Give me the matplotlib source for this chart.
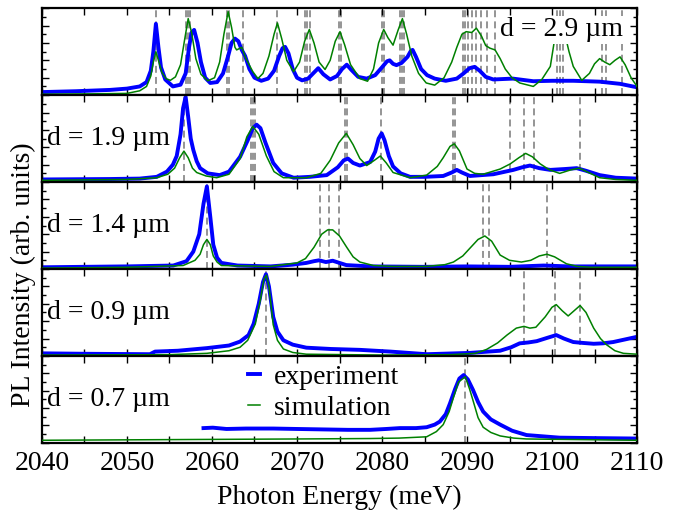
import matplotlib
matplotlib.use('Agg')
import matplotlib.pyplot as plt
from matplotlib.ticker import MultipleLocator

plt.rcParams['font.family'] = ['Liberation Serif', 'DejaVu Serif']
plt.rcParams['lines.scale_dashes'] = False

# d = 2.9 um
e29_exp = [2040.0, 2044.0, 2048.0, 2050.0, 2051.5, 2052.3, 2052.8, 2053.1, 2053.4, 2053.7, 2054.0, 2054.5,
           2055.4, 2056.3, 2056.9, 2057.3, 2057.6, 2057.9, 2058.3, 2058.7, 2059.2, 2059.8, 2060.6, 2061.3,
           2061.9, 2062.3, 2062.7, 2063.1, 2063.5, 2063.9, 2064.4, 2065.0, 2065.8, 2066.6, 2067.3, 2067.9,
           2068.3, 2068.6, 2069.0, 2069.5, 2070.0, 2070.6, 2071.3, 2071.9, 2072.5, 2073.1, 2073.9, 2074.7,
           2075.3, 2075.85, 2076.4, 2077.2, 2078.2, 2079.2, 2080.0, 2080.6, 2080.9, 2081.3, 2081.7, 2082.3,
           2083.0, 2083.4, 2083.6, 2084.0, 2084.6, 2085.3, 2086.2, 2087.5, 2088.8, 2089.6, 2090.3, 2090.9,
           2091.5, 2092.2, 2093.1, 2094.2, 2095.4, 2096.6, 2097.8, 2100.0, 2102.5, 2105.6, 2108.0, 2110.0]
i29_exp = [0.035, 0.045, 0.06, 0.075, 0.10, 0.15, 0.28, 0.50, 0.82, 0.55, 0.32, 0.18,
           0.10, 0.12, 0.25, 0.55, 0.72, 0.75, 0.60, 0.38, 0.20, 0.14, 0.15, 0.25,
           0.45, 0.60, 0.65, 0.62, 0.52, 0.45, 0.30, 0.20, 0.165, 0.19, 0.28, 0.45,
           0.54, 0.555, 0.48, 0.30, 0.20, 0.17, 0.19, 0.25, 0.31, 0.24, 0.18, 0.22,
           0.30, 0.35, 0.29, 0.21, 0.19, 0.23, 0.32, 0.39, 0.40, 0.36, 0.345, 0.37,
           0.44, 0.51, 0.52, 0.44, 0.30, 0.23, 0.19, 0.165, 0.19, 0.25, 0.31, 0.325,
           0.28, 0.21, 0.18, 0.185, 0.19, 0.175, 0.16, 0.165, 0.165, 0.155, 0.13, 0.09]
e29_sim = [2040.0, 2046.0, 2050.0, 2051.5, 2052.3, 2052.8, 2053.1, 2053.4, 2053.7, 2054.1, 2054.6, 2055.1,
           2055.7, 2056.3, 2056.8, 2057.2, 2057.6, 2058.1, 2058.7, 2059.5, 2060.3, 2060.9, 2061.4, 2061.9,
           2062.3, 2062.7, 2062.9, 2063.5, 2064.0, 2064.8, 2065.4, 2066.0, 2066.7, 2067.3, 2067.7, 2068.2,
           2068.8, 2069.6, 2070.3, 2070.9, 2071.45, 2072.0, 2072.6, 2073.3, 2073.9, 2074.5, 2075.06, 2075.6,
           2076.3, 2077.4, 2078.3, 2079.0, 2079.6, 2080.2, 2080.7, 2081.3, 2081.9, 2082.4, 2082.9, 2083.5,
           2084.3, 2085.2, 2086.2, 2087.3, 2088.2, 2088.8, 2089.4, 2089.9, 2090.55, 2091.1, 2091.7, 2092.2,
           2092.7, 2093.3, 2093.9, 2094.5, 2095.3, 2096.2, 2097.8, 2098.8, 2099.8, 2100.4, 2100.9, 2101.4,
           2102.0, 2102.5, 2103.5, 2104.4, 2105.0, 2105.6, 2106.2, 2106.8, 2107.4, 2108.0, 2108.6, 2109.3,
           2110.0]
i29_sim = [0.01, 0.015, 0.02, 0.05, 0.10, 0.22, 0.38, 0.50, 0.40, 0.26, 0.19, 0.17,
           0.21, 0.35, 0.65, 0.88, 0.72, 0.42, 0.24, 0.165, 0.20, 0.38, 0.70, 0.96,
           0.78, 0.55, 0.52, 0.55, 0.42, 0.27, 0.19, 0.25, 0.45, 0.70, 0.83, 0.65,
           0.40, 0.27, 0.38, 0.62, 0.755, 0.60, 0.38, 0.295, 0.40, 0.62, 0.73, 0.58,
           0.35, 0.19, 0.16, 0.30, 0.60, 0.755, 0.66, 0.575, 0.75, 0.88, 0.70, 0.45,
           0.25, 0.14, 0.115, 0.20, 0.38, 0.55, 0.70, 0.73, 0.72, 0.77, 0.68, 0.57,
           0.54, 0.52, 0.42, 0.30, 0.20, 0.14, 0.10, 0.18, 0.33, 0.70, 0.90, 0.75,
           0.50, 0.33, 0.17, 0.25, 0.36, 0.42, 0.38, 0.35, 0.40, 0.44, 0.35, 0.20,
           0.10]
m29 = [2053.4, 2057.0, 2057.2, 2057.4, 2061.8, 2062.0, 2063.6, 2067.7, 2070.9, 2071.2, 2071.5,
       2074.95, 2075.15, 2079.95, 2080.2, 2082.1, 2082.35, 2082.6, 2089.5, 2089.8, 2090.1, 2090.6,
       2091.1, 2091.6, 2092.4, 2093.3, 2100.55, 2100.9, 2101.3, 2105.85, 2106.4, 2108.2]

# d = 1.9 um
e19_exp = [2040.0, 2048.0, 2051.5, 2053.5, 2054.7, 2055.4, 2055.85, 2056.3, 2056.6, 2056.9, 2057.2, 2057.5,
           2057.8, 2058.2, 2058.6, 2059.5, 2060.9, 2062.0, 2063.3, 2064.2, 2064.8, 2065.25, 2065.7, 2066.3,
           2067.2, 2068.2, 2069.6, 2071.5, 2073.5, 2074.8, 2075.5, 2076.0, 2076.6, 2077.4, 2078.6, 2079.2,
           2079.6, 2079.96, 2080.3, 2080.8, 2081.3, 2082.2, 2083.3, 2085.0, 2087.2, 2088.2, 2088.8, 2089.4,
           2090.35, 2093.1, 2095.45, 2096.5, 2097.4, 2098.5, 2099.8, 2101.5, 2102.9, 2104.0, 2105.6, 2107.5,
           2110.0]
i19_exp = [0.03, 0.035, 0.04, 0.06, 0.12, 0.20, 0.30, 0.55, 0.85, 0.98, 0.75, 0.50,
           0.37, 0.24, 0.16, 0.10, 0.08, 0.12, 0.29, 0.48, 0.62, 0.66, 0.62, 0.45,
           0.22, 0.10, 0.05, 0.06, 0.08, 0.17, 0.25, 0.27, 0.22, 0.19, 0.23, 0.35,
           0.50, 0.56, 0.48, 0.30, 0.18, 0.10, 0.06, 0.06, 0.07, 0.11, 0.14, 0.11,
           0.07, 0.09, 0.14, 0.17, 0.19, 0.16, 0.14, 0.15, 0.16, 0.13, 0.08, 0.05,
           0.04]
e19_sim = [2040.0, 2050.0, 2053.5, 2054.8, 2055.6, 2056.2, 2056.7, 2057.2, 2057.7, 2058.2, 2059.3, 2060.55,
           2062.0, 2063.3, 2064.1, 2064.8, 2065.5, 2066.4, 2067.3, 2068.4, 2071.1, 2072.8, 2073.9, 2074.9,
           2075.8, 2076.6, 2077.4, 2078.2, 2079.1, 2079.8, 2080.5, 2081.3, 2083.3, 2085.25, 2086.5, 2087.2,
           2088.0, 2088.5, 2089.1, 2090.0, 2090.9, 2091.9, 2093.9, 2095.1, 2096.1, 2096.9, 2097.7, 2098.6,
           2099.7, 2100.9, 2102.2, 2103.2, 2104.3, 2105.6, 2107.5, 2110.0]
i19_sim = [0.02, 0.03, 0.05, 0.09, 0.16, 0.28, 0.356, 0.28, 0.16, 0.11, 0.07, 0.05,
           0.09, 0.27, 0.52, 0.64, 0.55, 0.30, 0.12, 0.05, 0.05, 0.10, 0.25, 0.45,
           0.56, 0.43, 0.27, 0.19, 0.25, 0.30, 0.22, 0.11, 0.05, 0.08, 0.18, 0.28,
           0.41, 0.44, 0.36, 0.15, 0.10, 0.09, 0.15, 0.21, 0.28, 0.33, 0.29, 0.21,
           0.14, 0.10, 0.14, 0.16, 0.11, 0.05, 0.03, 0.02]
m19 = [2056.7, 2064.6, 2064.85, 2065.1, 2075.7, 2075.9, 2079.9, 2088.35, 2088.6, 2095.1, 2096.7,
       2097.9, 2103.3]

# d = 1.4 um
e14_exp = [2040.0, 2050.0, 2055.45, 2057.0, 2057.8, 2058.5, 2059.0, 2059.4, 2059.8, 2060.15, 2060.6, 2061.1,
           2063.0, 2066.9, 2069.5, 2071.1, 2072.0, 2072.6, 2073.4, 2074.2, 2075.0, 2075.8, 2078.6, 2085.0,
           2090.0, 2095.0, 2099.0, 2102.0, 2110.0]
i14_exp = [0.02, 0.03, 0.04, 0.09, 0.20, 0.40, 0.75, 0.95, 0.60, 0.28, 0.13, 0.07,
           0.04, 0.03, 0.05, 0.07, 0.09, 0.10, 0.08, 0.095, 0.07, 0.045, 0.03, 0.025,
           0.03, 0.025, 0.04, 0.03, 0.03]
e14_sim = [2040.0, 2050.0, 2056.6, 2058.0, 2058.6, 2059.0, 2059.4, 2059.8, 2060.15, 2060.6, 2061.1, 2066.9,
           2070.0, 2071.0, 2072.0, 2072.9, 2073.6, 2074.2, 2075.0, 2075.85, 2076.6, 2077.4, 2079.0, 2081.3,
           2085.25, 2087.4, 2088.4, 2089.5, 2090.35, 2091.3, 2092.1, 2092.9, 2093.9, 2095.0, 2096.4, 2097.5,
           2098.5, 2099.4, 2100.3, 2101.7, 2103.0, 2104.5, 2110.0]
i14_sim = [0.01, 0.02, 0.04, 0.10, 0.17, 0.28, 0.34, 0.28, 0.15, 0.08, 0.04, 0.03,
           0.07, 0.12, 0.25, 0.40, 0.45, 0.45, 0.38, 0.25, 0.14, 0.08, 0.04, 0.03,
           0.03, 0.05, 0.08, 0.15, 0.24, 0.34, 0.38, 0.32, 0.16, 0.10, 0.08, 0.10,
           0.15, 0.17, 0.14, 0.06, 0.03, 0.02, 0.02]
m14 = [2059.4, 2072.75, 2073.8, 2074.9, 2091.9, 2092.6, 2099.4]

# d = 0.9 um
e09_exp = [2040.0, 2045.0, 2052.7, 2053.3, 2056.0, 2059.4, 2062.0, 2063.3, 2064.3, 2064.9, 2065.5, 2066.0,
           2066.35, 2066.7, 2067.2, 2067.7, 2068.4, 2069.5, 2071.1, 2074.0, 2077.4, 2081.0, 2085.25, 2090.35,
           2093.9, 2095.2, 2096.2, 2097.2, 2098.2, 2099.5, 2100.5, 2101.4, 2102.5, 2103.6, 2104.9, 2106.0,
           2107.2, 2108.6, 2110.0]
i09_exp = [0.03, 0.025, 0.02, 0.05, 0.06, 0.09, 0.12, 0.165, 0.24, 0.37, 0.60, 0.85,
           0.94, 0.80, 0.45, 0.28, 0.18, 0.13, 0.095, 0.08, 0.07, 0.05, 0.02, 0.035,
           0.06, 0.10, 0.145, 0.155, 0.17, 0.21, 0.24, 0.20, 0.16, 0.15, 0.14, 0.145,
           0.16, 0.19, 0.22]
e09_sim = [2040.0, 2055.0, 2059.4, 2062.0, 2063.3, 2064.2, 2065.1, 2065.7, 2066.1, 2066.4, 2066.7, 2067.2,
           2067.7, 2068.4, 2069.5, 2071.1, 2080.0, 2088.0, 2091.0, 2092.3, 2093.6, 2094.7, 2095.8, 2096.7,
           2097.4, 2098.1, 2099.2, 2100.0, 2100.5, 2101.2, 2101.9, 2102.6, 2103.3, 2104.0, 2104.9, 2105.7,
           2106.4, 2107.4, 2108.4, 2110.0]
i09_sim = [0.01, 0.015, 0.03, 0.06, 0.10, 0.18, 0.37, 0.65, 0.88, 0.93, 0.80, 0.36,
           0.18, 0.08, 0.04, 0.02, 0.01, 0.015, 0.03, 0.075, 0.15, 0.24, 0.32, 0.34,
           0.32, 0.33, 0.45, 0.56, 0.59, 0.52, 0.46, 0.52, 0.58, 0.50, 0.32, 0.20,
           0.13, 0.06, 0.03, 0.02]
m09 = [2066.35, 2096.7, 2100.4, 2103.3]

# d = 0.7 um
e07_exp = [2059.0, 2060.1, 2061.7, 2064.0, 2067.2, 2070.0, 2073.0, 2076.0, 2078.6, 2080.5, 2082.1, 2084.0,
           2085.25, 2086.2, 2086.8, 2087.5, 2088.0, 2088.6, 2089.1, 2089.6, 2090.1, 2090.7, 2091.3, 2091.9,
           2092.8, 2093.9, 2095.3, 2097.0, 2100.9, 2105.0, 2110.0]
i07_exp = [0.17, 0.175, 0.16, 0.165, 0.165, 0.16, 0.155, 0.15, 0.15, 0.16, 0.17, 0.17,
           0.18, 0.21, 0.245, 0.33, 0.455, 0.62, 0.74, 0.78, 0.73, 0.61, 0.47, 0.36,
           0.27, 0.21, 0.14, 0.09, 0.06, 0.055, 0.05]
e07_sim = [2040.0, 2050.0, 2060.0, 2070.0, 2078.6, 2082.0, 2085.25, 2086.4, 2087.2, 2087.9, 2088.4, 2089.0,
           2089.8, 2090.3, 2090.7, 2091.3, 2091.9, 2092.8, 2093.9, 2095.5, 2097.0, 2110.0]
i07_sim = [0.03, 0.035, 0.04, 0.045, 0.05, 0.055, 0.07, 0.13, 0.21, 0.36, 0.52, 0.70,
           0.76, 0.62, 0.49, 0.29, 0.18, 0.12, 0.08, 0.055, 0.045, 0.03]
m07 = [2089.8]

panels = [
    ('d = 2.9 µm', e29_exp, i29_exp, e29_sim, i29_sim, m29),
    ('d = 1.9 µm', e19_exp, i19_exp, e19_sim, i19_sim, m19),
    ('d = 1.4 µm', e14_exp, i14_exp, e14_sim, i14_sim, m14),
    ('d = 0.9 µm', e09_exp, i09_exp, e09_sim, i09_sim, m09),
    ('d = 0.7 µm', e07_exp, i07_exp, e07_sim, i07_sim, m07),
]

fig, axes = plt.subplots(5, 1, sharex=True, figsize=(6.86, 5.12), dpi=100,
                         gridspec_kw=dict(hspace=0))
fig.subplots_adjust(left=0.0612, right=0.9286, top=0.984, bottom=0.135)

for k, (ax, (lab, ex, iy, sx, sy, modes)) in enumerate(zip(axes, panels)):
    # calculated mode energies
    for m in modes:
        ax.axvline(m, color='#8c8c8c', lw=1.3, dashes=(5, 3), zorder=1)
    ax.plot(ex, iy, '-', color='blue', lw=2.8, zorder=2, label='experiment')
    ax.plot(sx, sy, '-', color='green', lw=1.1, zorder=3, label='simulation')
    ax.set_xlim(2040, 2110)
    ax.set_ylim(0, 1)
    ax.xaxis.set_major_locator(MultipleLocator(10))
    ax.xaxis.set_minor_locator(MultipleLocator(5))
    ax.yaxis.set_major_locator(MultipleLocator(0.2))
    ax.yaxis.set_minor_locator(MultipleLocator(0.1))
    ax.tick_params(which='both', direction='in', top=True, right=True,
                   labelleft=False, labelsize=20, pad=6)
    ax.tick_params(which='major', length=5, width=1)
    ax.tick_params(which='minor', length=3, width=1)
    ax.tick_params(axis='x', which='minor', length=5)
    for s in ax.spines.values():
        s.set_linewidth(1.6)
    if k == 0:
        ax.text(0.77, 0.75, lab, transform=ax.transAxes, fontsize=20, ha='left', va='center',
                bbox=dict(facecolor='white', edgecolor='none', pad=1), zorder=5)
    else:
        ax.text(0.008, 0.50, lab, transform=ax.transAxes, fontsize=20, ha='left', va='center')

axes[-1].legend(loc='center left', bbox_to_anchor=(0.346, 0.58), frameon=False, fontsize=20,
                handlelength=0.45, handletextpad=0.5, labelspacing=0.2,
                borderpad=0, borderaxespad=0)

fig.text(0.034, 0.463, 'PL Intensity (arb. units)', rotation=90, fontsize=20,
         ha='center', va='center')
fig.text(0.495, 0.028, 'Photon Energy (meV)', fontsize=20, ha='center', va='center')

fig.savefig('out.png', dpi=100)
